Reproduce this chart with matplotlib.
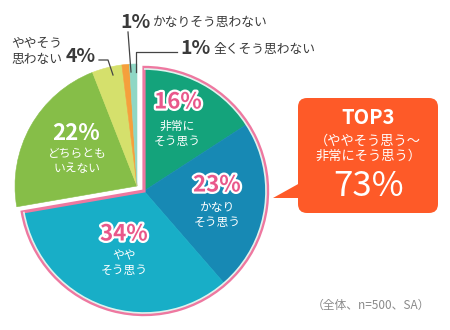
import matplotlib
matplotlib.use("Agg")
import matplotlib.pyplot as plt
import matplotlib.patheffects as pe
from matplotlib.patches import Wedge, Arc, FancyBboxPatch, Polygon
import numpy as np

plt.rcParams['font.family'] = ['Noto Sans CJK JP', 'DejaVu Sans']

# ---------------- data ----------------
categories = ["非常にそう思う", "かなりそう思う", "ややそう思う", "どちらともいえない",
              "ややそう思わない", "かなりそう思わない", "全くそう思わない"]
values = [16, 23, 34, 22, 4, 1, 1]
colors = ["#14a37b", "#1789b4", "#18aec7", "#86be48", "#d5e06c", "#f5a03c", "#8fd7c5"]
top_n = 3
top_total_label = "73%"
inside_labels = ["非常に\nそう思う", "かなり\nそう思う", "やや\nそう思う", "どちらとも\nいえない"]
footnote = "（全体、n=500、SA）"

H = 330
fig = plt.figure(figsize=(4.5, 3.3), dpi=100)
ax = fig.add_axes([0, 0, 1, 1])

total = float(sum(values))
fr = [v / total for v in values]
top_frac = sum(fr[:top_n])

R = 122
c_top = (144, H - 191)
c_rest = (137, H - 186)

w1, _ = ax.pie(fr[:top_n], colors=colors[:top_n], startangle=90, counterclock=False,
               radius=R, center=c_top, normalize=False)
w2, _ = ax.pie(fr[top_n:], colors=colors[top_n:], startangle=90 - 360 * top_frac,
               counterclock=False, radius=R, center=c_rest, normalize=False)
for w in list(w1) + list(w2):
    w.set_edgecolor(w.get_facecolor())
    w.set_linewidth(0.4)

# pink outline of the top group
pink = "#ee78a0"
th1, th2 = 90 - 360 * top_frac, 90
ax.add_patch(Wedge(c_top, R + 1.6, th1, th2, fill=False, ec=pink, lw=2.3,
                   joinstyle='miter', zorder=5))
ax.add_patch(Arc(c_top, 2 * R, 2 * R, theta1=th1, theta2=th2, ec="#dff3ee",
                 lw=1.2, zorder=6))

# ---------------- labels inside ----------------
pct_color = "#e9588b"
stroke = [pe.withStroke(linewidth=3.2, foreground="white")]
pct_pos = [(178, 102), (217, 185), (124, 234)]
sub_pos = [(177, 134), (217, 215), (124, 263)]
for i in range(top_n):
    ax.text(pct_pos[i][0], H - pct_pos[i][1], f"{values[i]}%", color=pct_color,
            fontsize=16, fontweight='bold', ha='center', va='center',
            path_effects=stroke, zorder=10)
    ax.text(sub_pos[i][0], H - sub_pos[i][1], inside_labels[i], color="white",
            fontsize=8.5, ha='center', va='center', linespacing=1.2, zorder=10)

ax.text(76, H - 133, f"{values[3]}%", color="white", fontsize=16, fontweight='bold',
        ha='center', va='center', zorder=10)
ax.text(77, H - 161, inside_labels[3], color="white", fontsize=8.5, ha='center',
        va='center', linespacing=1.2, zorder=10)

# ---------------- labels outside ----------------
dark = "#3a3a3a"
ax.text(11, H - 51, "ややそう\n思わない", color=dark, fontsize=9.2, ha='left',
        va='center', linespacing=1.3)
ax.text(66, H - 57, f"{values[4]}%", color=dark, fontsize=14, fontweight='bold',
        ha='left', va='center')
ax.text(120, H - 22, f"{values[5]}%", color=dark, fontsize=14, fontweight='bold',
        ha='left', va='center')
ax.text(152, H - 22, categories[5], color=dark, fontsize=9.2, ha='left', va='center')
ax.text(180, H - 49, f"{values[6]}%", color=dark, fontsize=14, fontweight='bold',
        ha='left', va='center')
ax.text(214, H - 49, categories[6], color=dark, fontsize=9.2, ha='left', va='center')

lc = "#444444"
ax.plot([99, 108, 113], [H - 60, H - 60, H - 75], color=lc, lw=0.9, zorder=7)
ax.plot([128, 131], [H - 32, H - 72], color=lc, lw=0.9, zorder=7)
ax.plot([177, 136, 136], [H - 52, H - 52, H - 72], color=lc, lw=0.9, zorder=7)

# ---------------- callout box ----------------
box_c = "#fe5a28"
ax.add_patch(FancyBboxPatch((298, H - 213), 140, 115,
                            boxstyle="round,pad=0,rounding_size=9",
                            fc=box_c, ec="none", zorder=8))
ax.add_patch(Polygon([(273, H - 198), (300, H - 183), (300, H - 198)], closed=True,
                     fc=box_c, ec="none", zorder=8))
ax.text(368, H - 118, "TOP3", color="white", fontsize=14.5, fontweight='bold',
        ha='center', va='center', zorder=9)
ax.text(368, H - 149, "（ややそう思う～\n非常にそう思う）", color="white", fontsize=9.5,
        ha='center', va='center', linespacing=1.2, zorder=9)
ax.text(369, H - 187, top_total_label, color="white", fontsize=25,
        ha='center', va='center', zorder=9)

ax.text(371, H - 305, footnote, color="#8a8a8a", fontsize=8.5, ha='center', va='center')

ax.set_xlim(0, 450)
ax.set_ylim(0, H)
ax.set_aspect('auto')
ax.axis('off')
fig.savefig("out.png", dpi=100)
